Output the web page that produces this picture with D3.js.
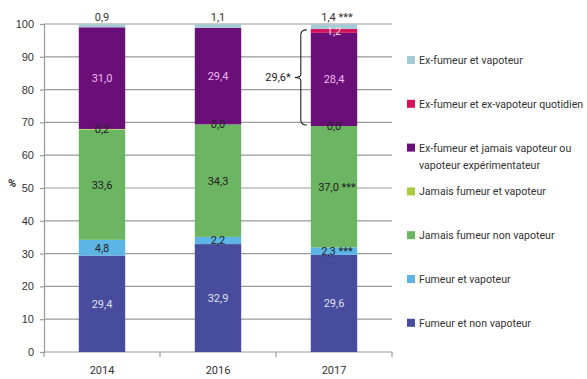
<!DOCTYPE html>
<html>
<head>
<meta charset="utf-8">
<script src="https://cdn.jsdelivr.net/npm/d3@7"></script>
<style>
  body { margin: 0; background: #fff; }
  svg { font-family: Roboto, "DejaVu Sans", sans-serif; }
</style>
</head>
<body>
<div id="chart"></div>
<script>
// data
const years = ["2014", "2016", "2017"];
const seriesNames = [
  "Fumeur et non vapoteur",
  "Fumeur et vapoteur",
  "Jamais fumeur non vapoteur",
  "Jamais fumeur et vapoteur",
  "Ex-fumeur et jamais vapoteur ou vapoteur expérimentateur",
  "Ex-fumeur et ex-vapoteur quotidien",
  "Ex-fumeur et vapoteur"
];
const fumeurNonVap = [29.4, 32.9, 29.6];
const fumeurVap = [4.8, 2.2, 2.3];
const jamaisNonVap = [33.6, 34.3, 37.0];
const jamaisVap = [0.2, 0.0, 0.0];
const exJamaisVap = [31.0, 29.4, 28.4];
const exExVapQuot = [null, null, 1.2];
const exVap = [0.9, 1.1, 1.4];
const marks = [["", "", ""], ["", "", "***"], ["", "", "***"], ["", "", ""], ["", "", ""], ["", "", ""], ["", "", "***"]];
const yTicks = [0, 10, 20, 30, 40, 50, 60, 70, 80, 90, 100];
const braceLabel = "29,6*";

const colors = ["#474c9c", "#5db5e6", "#6cb563", "#a9cd3f", "#6a0f78", "#d3145c", "#a7cbd6"];
const labelColors = ["#dfe0f0", "#222", "#222", "#222", "#f0b8f0", "#f6d6e4", "#333"];
const legendLines = [
  ["Ex-fumeur et vapoteur"],
  ["Ex-fumeur et ex-vapoteur quotidien"],
  ["Ex-fumeur et jamais vapoteur ou", "vapoteur expérimentateur"],
  ["Jamais fumeur et vapoteur"],
  ["Jamais fumeur non vapoteur"],
  ["Fumeur et vapoteur"],
  ["Fumeur et non vapoteur"]
];

const allSeries = [fumeurNonVap, fumeurVap, jamaisNonVap, jamaisVap, exJamaisVap, exExVapQuot, exVap];
const rows = years.map((y, i) => {
  const r = { year: y };
  seriesNames.forEach((s, k) => r[s] = allSeries[k][i] || 0);
  return r;
});
const stacked = d3.stack().keys(seriesNames)(rows);

const W = 587, H = 379;
const margin = { top: 24, right: 195, bottom: 27, left: 44 };
const width = W - margin.left - margin.right;
const height = H - margin.top - margin.bottom;

const svg = d3.select("#chart").append("svg")
  .attr("width", W).attr("height", H)
  .append("g")
  .attr("transform", `translate(${margin.left},${margin.top})`);

const x = d3.scaleBand().domain(years).range([0, width]).paddingInner(0.6).paddingOuter(0.3);
const y = d3.scaleLinear().domain([0, 100]).range([height, 0]);

// grid
svg.append("g").selectAll("line").data(yTicks.filter(d => d > 0)).join("line")
  .attr("x1", 0).attr("x2", width)
  .attr("y1", d => y(d)).attr("y2", d => y(d))
  .attr("stroke", "#9a9a9a").attr("stroke-width", 1.2);

// y axis
const yAxis = svg.append("g")
  .call(d3.axisLeft(y).tickValues(yTicks).tickSize(4).tickPadding(6));
yAxis.select(".domain").attr("stroke", "#9a9a9a").attr("stroke-width", 1.2);
yAxis.selectAll(".tick line").attr("stroke", "#9a9a9a").attr("stroke-width", 1.2);
yAxis.selectAll("text").attr("font-size", 11).attr("fill", "#333");

// x axis: ticks at category boundaries
const xAxisG = svg.append("g").attr("transform", `translate(0,${height})`);
xAxisG.append("line").attr("x1", 0).attr("x2", width).attr("stroke", "#9a9a9a").attr("stroke-width", 1.2);
xAxisG.selectAll(".bt").data(d3.range(years.length + 1)).join("line")
  .attr("x1", i => i * width / years.length).attr("x2", i => i * width / years.length)
  .attr("y1", 0).attr("y2", 5).attr("stroke", "#9a9a9a").attr("stroke-width", 1.2);
xAxisG.selectAll("text").data(years).join("text")
  .attr("x", d => x(d) + x.bandwidth() / 2).attr("y", 22)
  .attr("text-anchor", "middle").attr("font-size", 11).attr("fill", "#333")
  .text(d => d);

svg.append("text").attr("x", -36).attr("y", y(50) - 1)
  .attr("font-size", 11).attr("font-weight", "bold").attr("fill", "#333").text("%");

// bars
const layers = svg.selectAll(".layer").data(stacked).join("g")
  .attr("fill", (d, i) => colors[i]);
layers.selectAll("rect").data(d => d).join("rect")
  .attr("x", d => x(d.data.year))
  .attr("width", x.bandwidth())
  .attr("y", d => y(d[1]))
  .attr("height", d => y(d[0]) - y(d[1]));

// value labels
stacked.forEach((layer, k) => {
  layer.forEach((d, i) => {
    const v = allSeries[k][i];
    if (v === null) return;
    const top = k === seriesNames.length - 1;
    const ly = top ? y(d[1]) - 3 : y((d[0] + d[1]) / 2) + 4;
    const cx = x(d.data.year) + x.bandwidth() / 2;
    const txt = d3.format(".1f")(v).replace(".", ",");
    svg.append("text")
      .attr("x", marks[k][i] ? cx + 3 : cx).attr("y", ly)
      .attr("font-size", 11).attr("fill", labelColors[k])
      .attr("text-anchor", "middle")
      .text(marks[k][i] ? txt + " " + marks[k][i] : txt);
  });
});

// brace next to 2017
const b = stacked[4][2], r = stacked[5][2];
const bx = x("2017") - 10;
const by0 = y(r[1]) + 1, by1 = y(b[0]) - 1, bm = (by0 + by1) / 2;
svg.append("path")
  .attr("d", `M${bx + 6},${by0} Q${bx},${by0} ${bx},${by0 + 5} L${bx},${bm - 3} Q${bx},${bm} ${bx - 6},${bm} Q${bx},${bm} ${bx},${bm + 3} L${bx},${by1 - 5} Q${bx},${by1} ${bx + 6},${by1}`)
  .attr("fill", "none").attr("stroke", "#222").attr("stroke-width", 1.1);
svg.append("text").attr("x", bx - 10).attr("y", bm + 4)
  .attr("text-anchor", "end").attr("font-size", 11).attr("fill", "#222").text(braceLabel);

// legend
const legend = svg.append("g").attr("transform", `translate(${width + 15},0)`);
const legendOrder = d3.range(seriesNames.length).reverse();
legendOrder.forEach((k, j) => {
  const cy = 36 + j * 43.8;
  const g = legend.append("g").attr("transform", `translate(0,${cy})`);
  g.append("rect").attr("x", 0).attr("y", -4).attr("width", 8).attr("height", 8).attr("fill", colors[k]);
  legendLines[j].forEach((line, li) => {
    g.append("text").attr("x", 12).attr("y", 4 + li * 17)
      .attr("font-size", 10.6).attr("fill", "#333").text(line);
  });
});
</script>
</body>
</html>
